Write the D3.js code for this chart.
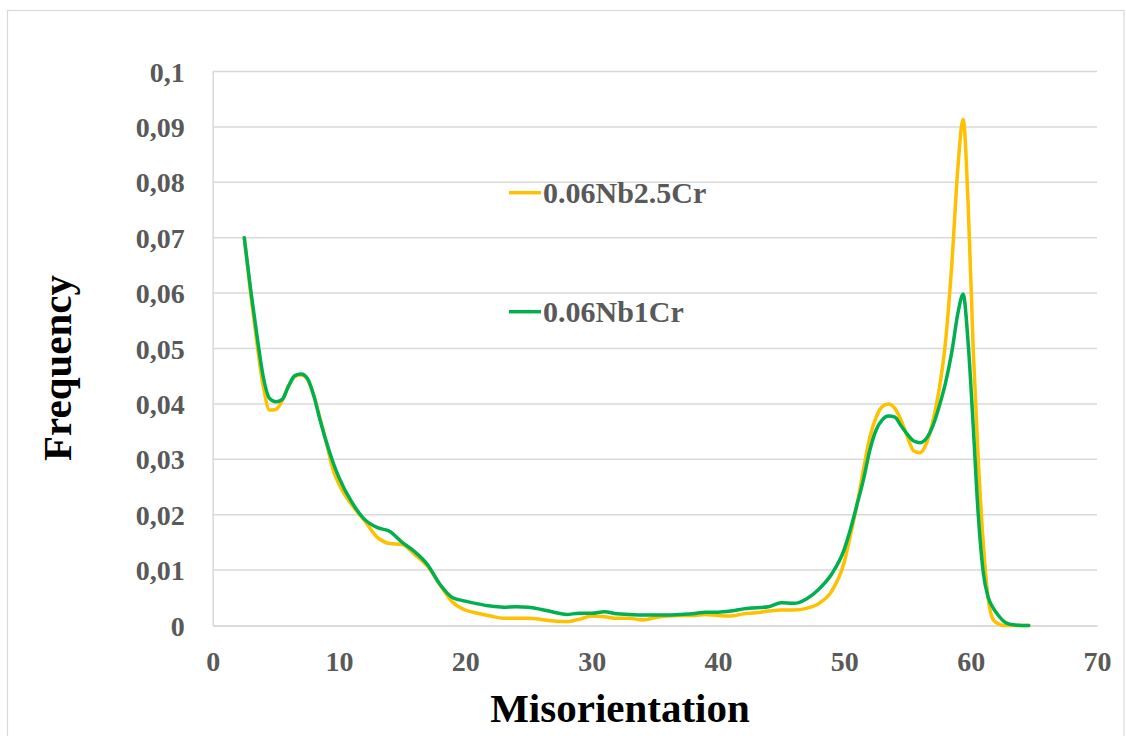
<!DOCTYPE html>
<html>
<head>
<meta charset="utf-8">
<script src="https://cdn.jsdelivr.net/npm/d3@7"></script>
<style>
  html, body { margin: 0; padding: 0; background: #ffffff; }
  svg { display: block; }
  text { font-family: "Liberation Serif", "Times New Roman", serif; font-weight: bold; }
</style>
</head>
<body>
<svg id="chart" width="1126" height="736"></svg>
<script>
// Misorientation angle (degrees), shared by both series
const angles = [
  2.5, 3, 3.5, 4, 4.5, 5, 5.5, 6, 6.5, 7, 7.5, 8, 8.5, 9, 9.5, 10,
  11, 12, 13, 14, 15, 16, 17, 18, 19, 20, 21, 22, 23, 24, 25, 26, 27, 28, 29, 30,
  31, 32, 33, 34, 35, 36, 37, 38, 39, 40, 41, 42, 43, 44, 45, 46, 47, 48, 49, 50,
  50.5, 51, 51.5, 52, 52.5, 53, 53.5, 54, 54.5, 55, 55.5, 56, 56.5, 57, 57.5, 58, 58.5, 59,
  59.4, 59.8, 60.2, 60.6, 61, 61.4, 61.8, 62.2, 62.6, 63, 63.5, 64, 64.6
];

// Frequency, 0.06Nb2.5Cr
const freqNb25Cr = [
  0.0700, 0.0600, 0.0510, 0.0432, 0.0389, 0.0390, 0.0406, 0.0432, 0.0449, 0.0452, 0.0444, 0.0415, 0.0373, 0.0330, 0.0283, 0.0255,
  0.0218, 0.0190, 0.0160, 0.0148, 0.0146, 0.0128, 0.0107, 0.0073, 0.0042, 0.0028, 0.0022, 0.0017, 0.0013, 0.0013, 0.0013, 0.0011, 0.0008, 0.0007, 0.0011, 0.0017,
  0.0016, 0.0013, 0.0013, 0.0010, 0.0014, 0.0017, 0.0018, 0.0018, 0.0020, 0.0018, 0.0017, 0.0021, 0.0023, 0.0026, 0.0028, 0.0028, 0.0031, 0.0040, 0.0062, 0.0115,
  0.0165, 0.0218, 0.0280, 0.0338, 0.0375, 0.0395, 0.0400, 0.0392, 0.0370, 0.0340, 0.0315, 0.0312, 0.0329, 0.0368, 0.0425, 0.0510, 0.0650, 0.0830,
  0.0914, 0.0760, 0.0500, 0.0300, 0.0148, 0.0046, 0.0010, 0.0003, 0.0000, 0.0000, 0.0000, 0.0000, 0.0000
];

// Frequency, 0.06Nb1Cr
const freqNb1Cr = [
  0.0700, 0.0607, 0.0524, 0.0449, 0.0410, 0.0404, 0.0408, 0.0432, 0.0451, 0.0454, 0.0446, 0.0415, 0.0371, 0.0331, 0.0296, 0.0267,
  0.0223, 0.0192, 0.0177, 0.0170, 0.0150, 0.0133, 0.0110, 0.0074, 0.0050, 0.0044, 0.0039, 0.0035, 0.0033, 0.0034, 0.0033, 0.0029, 0.0024, 0.0020, 0.0022, 0.0022,
  0.0025, 0.0021, 0.0020, 0.0019, 0.0019, 0.0019, 0.0020, 0.0021, 0.0024, 0.0024, 0.0026, 0.0030, 0.0032, 0.0034, 0.0041, 0.0040, 0.0048, 0.0066, 0.0093, 0.0138,
  0.0175, 0.0218, 0.0262, 0.0315, 0.0352, 0.0371, 0.0378, 0.0376, 0.0360, 0.0345, 0.0333, 0.0330, 0.0338, 0.0360, 0.0395, 0.0437, 0.0493, 0.0565,
  0.0598, 0.0510, 0.0360, 0.0200, 0.0095, 0.0050, 0.0031, 0.0018, 0.0008, 0.0003, 0.0001, 0.0000, 0.0000
];

const seriesNames = ["0.06Nb2.5Cr", "0.06Nb1Cr"];
const seriesColors = ["#FFC000", "#00B050"];

const xTicks = [0, 10, 20, 30, 40, 50, 60, 70];
const yTicks = [0, 0.01, 0.02, 0.03, 0.04, 0.05, 0.06, 0.07, 0.08, 0.09, 0.1];

const xTitle = "Misorientation";
const yTitle = "Frequency";

// ---- drawing ----
const svg = d3.select("#chart");

const plot = { left: 212.7, right: 1097, top: 71.5, bottom: 625.5 };

const x = d3.scaleLinear().domain([0, 70]).range([plot.left, plot.right]);
const y = d3.scaleLinear().domain([0, 0.1]).range([plot.bottom, plot.top]);

const commaLocale = d3.formatLocale({ decimal: ",", thousands: ".", grouping: [3], currency: ["", ""] });
const yFmt = commaLocale.format(".2~f");

// chart frame
svg.append("rect")
  .attr("x", 7.5).attr("y", 10.5)
  .attr("width", 1116.5).attr("height", 740)
  .attr("fill", "none").attr("stroke", "#d9d9d9").attr("stroke-width", 1.2);

// horizontal gridlines
svg.append("g")
  .selectAll("line")
  .data(yTicks.filter(d => d > 0))
  .join("line")
  .attr("x1", plot.left).attr("x2", plot.right)
  .attr("y1", d => y(d)).attr("y2", d => y(d))
  .attr("stroke", "#d9d9d9").attr("stroke-width", 1.5);

// y axis
const yAxis = svg.append("g")
  .attr("transform", `translate(${plot.left},0)`)
  .call(d3.axisLeft(y).tickValues(yTicks).tickFormat(yFmt).tickSize(0).tickPadding(28));
yAxis.select(".domain").attr("stroke", "#d9d9d9").attr("stroke-width", 1.5);
yAxis.selectAll("text")
  .attr("font-size", 28).attr("fill", "#595959")
  .attr("font-family", "Liberation Serif, Times New Roman, serif")
  .attr("font-weight", "bold")
  .attr("dy", "0.34em");

// x axis
const xAxis = svg.append("g")
  .attr("transform", `translate(0,${plot.bottom})`)
  .call(d3.axisBottom(x).tickValues(xTicks).tickFormat(d3.format("d")).tickSize(0).tickPadding(26));
xAxis.select(".domain").attr("stroke", "#d0d0d0").attr("stroke-width", 1.5);
xAxis.selectAll("text")
  .attr("font-size", 28).attr("fill", "#595959")
  .attr("font-family", "Liberation Serif, Times New Roman, serif")
  .attr("font-weight", "bold")
  .attr("dy", "0.71em");

// series lines
const seriesValues = [freqNb25Cr, freqNb1Cr];
const line = d3.line()
  .x(d => x(d[0]))
  .y(d => y(d[1]))
  .curve(d3.curveMonotoneX);

seriesValues.forEach((vals, i) => {
  const pts = angles.map((a, k) => [a, vals[k]]);
  svg.append("path")
    .datum(pts)
    .attr("d", line)
    .attr("fill", "none")
    .attr("stroke", seriesColors[i])
    .attr("stroke-width", 3.5)
    .attr("stroke-linejoin", "round")
    .attr("stroke-linecap", "round");
});

// legend
const legendPos = [{ lx: 509, ly: 192.7, ty: 202.5 }, { lx: 509, ly: 311.7, ty: 321.7 }];
seriesNames.forEach((name, i) => {
  const p = legendPos[i];
  svg.append("line")
    .attr("x1", p.lx).attr("x2", p.lx + 32)
    .attr("y1", p.ly).attr("y2", p.ly)
    .attr("stroke", seriesColors[i]).attr("stroke-width", 3.5);
  svg.append("text")
    .attr("x", p.lx + 34).attr("y", p.ty)
    .attr("font-size", 30).attr("fill", "#595959")
    .text(name);
});

// axis titles
svg.append("text")
  .attr("x", 620).attr("y", 721.7)
  .attr("text-anchor", "middle")
  .attr("font-size", 41).attr("fill", "#000000")
  .text(xTitle);

svg.append("text")
  .attr("transform", "translate(71,368) rotate(-90)")
  .attr("text-anchor", "middle")
  .attr("font-size", 41).attr("fill", "#000000")
  .text(yTitle);
</script>
</body>
</html>
